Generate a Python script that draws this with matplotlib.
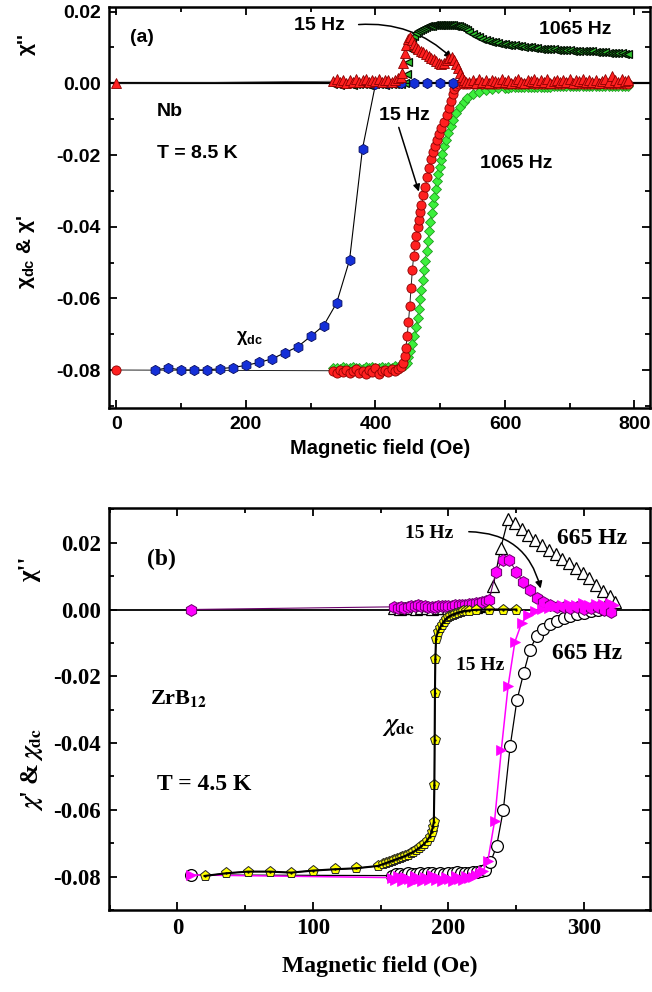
import numpy as np
import matplotlib
matplotlib.use('Agg')
import matplotlib.pyplot as plt
from matplotlib.ticker import MultipleLocator, FormatStrFormatter

SANS = 'Liberation Sans'
SERIF = 'Liberation Serif'
plt.rcParams['font.family'] = [SANS, 'DejaVu Sans']
plt.rcParams['font.weight'] = 'bold'
plt.rcParams['mathtext.fontset'] = 'custom'
plt.rcParams['mathtext.rm'] = 'Liberation Sans:bold'
plt.rcParams['mathtext.it'] = 'Liberation Sans:bold'
plt.rcParams['mathtext.bf'] = 'Liberation Sans:bold'

# ---------------- Panel (a): Nb, T = 8.5 K ----------------
# chi_dc
field_dc_a = [60, 80, 100, 120, 140, 160, 180, 200, 220, 240, 260, 280, 300, 320, 340, 360, 380,
              400, 420, 440, 460, 480, 500, 520]
chi_dc_a = [-0.0800, -0.0794, -0.0800, -0.0800, -0.0800, -0.0796, -0.0793, -0.0787, -0.0779, -0.0769,
            -0.0752, -0.0735, -0.0706, -0.0676, -0.0613, -0.0493, -0.0182,
            -0.0003, 0.0, 0.0, 0.0, 0.0, 0.0, 0.0]

# chi' 15 Hz (red circles)
field_r15_a = ([0] + list(range(335, 445, 5)) +
               [443, 445, 447, 449, 451, 453, 455, 457, 459, 461, 463, 465, 467, 469, 471, 474, 477,
                480, 483, 486, 489, 492, 495, 498, 502, 506, 510, 513, 516, 519, 522, 525, 529] +
               list(range(535, 795, 5)))
chi_r15_a = ([-0.0800] +
             [-0.0802, -0.0808, -0.0800, -0.0806, -0.0801, -0.0809, -0.0803, -0.0798, -0.0807, -0.0802,
              -0.0810, -0.0799, -0.0805, -0.0794, -0.0812, -0.0803, -0.0799, -0.0806, -0.0798, -0.0802,
              -0.0797, -0.0792] +
             [-0.0780, -0.0762, -0.0738, -0.0705, -0.0665, -0.0622, -0.0570, -0.0520, -0.0482, -0.0452,
              -0.0425, -0.0402, -0.0380, -0.0358, -0.0340, -0.0313, -0.0288, -0.0260, -0.0236, -0.0211,
              -0.0192, -0.0174, -0.0157, -0.0141, -0.0124, -0.0108, -0.0088, -0.0068, -0.0048, -0.0031,
              -0.0017, -0.0008, -0.0003] +
             [-0.0002, -0.0001, -0.0003, -0.0001, -0.0002, 0.0000, -0.0002, -0.0001, -0.0003, -0.0002,
              -0.0001, -0.0002, 0.0000, -0.0003, -0.0001, -0.0002, -0.0001, -0.0002, -0.0003, -0.0001,
              -0.0002, 0.0000, -0.0002, -0.0001, -0.0003, -0.0002, -0.0001, -0.0002, -0.0001, -0.0003,
              -0.0002, -0.0001, 0.0000, -0.0002, -0.0001, -0.0003, -0.0002, -0.0001, -0.0002, -0.0001,
              -0.0003, -0.0002, -0.0001, 0.0000, -0.0002, -0.0001, -0.0002, -0.0003, -0.0001, -0.0002,
              -0.0001, -0.0002])

# chi' 1065 Hz (green diamonds)
field_g1065_a = (list(range(335, 446, 5)) +
                 [448, 451, 454, 457, 460, 463] + list(range(465, 504, 2)) +
                 [506, 509, 512, 516, 520, 525, 530, 536, 542, 550, 560, 570, 580, 590, 600] +
                 list(range(605, 795, 5)))
chi_g1065_a = ([-0.0795, -0.0793, -0.0796, -0.0792, -0.0794, -0.0795, -0.0792, -0.0794, -0.0793, -0.0796,
                -0.0792, -0.0794, -0.0791, -0.0795, -0.0793, -0.0792, -0.0794, -0.0791, -0.0793, -0.0790,
                -0.0792, -0.0789, -0.0786] +
               [-0.0780, -0.0765, -0.0748, -0.0728, -0.0705, -0.0680, -0.0655, -0.0630, -0.0603, -0.0577,
                -0.0550, -0.0522, -0.0495, -0.0467, -0.0440, -0.0413, -0.0387, -0.0362, -0.0338, -0.0316,
                -0.0294, -0.0273, -0.0253, -0.0233, -0.0214, -0.0196, -0.0176, -0.0157, -0.0139, -0.0120,
                -0.0102, -0.0083, -0.0066, -0.0051, -0.0040, -0.0031, -0.0024, -0.0019, -0.0016, -0.0014,
                -0.0012] +
               [-0.0012, -0.0011, -0.0011, -0.0011, -0.0010, -0.0010, -0.0010, -0.0010, -0.0009, -0.0009,
                -0.0009, -0.0009, -0.0009, -0.0009, -0.0008, -0.0008, -0.0008, -0.0008, -0.0008, -0.0008,
                -0.0008, -0.0008, -0.0007, -0.0007, -0.0007, -0.0007, -0.0007, -0.0007, -0.0007, -0.0007,
                -0.0007, -0.0007, -0.0007, -0.0007, -0.0007, -0.0007, -0.0007, -0.0007])

# chi'' 15 Hz (red triangles)
field_t15_a = ([0] + list(range(335, 440, 5)) +
               [439, 441, 443, 445, 447, 450, 453, 456, 459, 462, 466, 470, 474, 478, 482, 486, 490, 494,
                498, 502, 506, 510, 514, 518, 521, 524, 527, 530, 533, 536, 540] +
               list(range(545, 795, 5)))
chi2_t15_a = ([0.0] +
              [0.0006, 0.0012, 0.0004, 0.0009, 0.0002, 0.0010, 0.0005, 0.0013, 0.0003, 0.0008, 0.0011,
               0.0004, 0.0009, 0.0006, 0.0012, 0.0003, 0.0008, 0.0010, 0.0005, 0.0009, 0.0014] +
              [0.0018, 0.0030, 0.0056, 0.0085, 0.0108, 0.0124, 0.0128, 0.0122, 0.0111, 0.0101,
               0.0095, 0.0091, 0.0087, 0.0082, 0.0077, 0.0072, 0.0067, 0.0062, 0.0057, 0.0053,
               0.0057, 0.0065, 0.0072, 0.0073, 0.0065, 0.0054, 0.0042, 0.0030, 0.0018, 0.0010, 0.0005] +
              [0.0004, 0.0009, 0.0002, 0.0011, 0.0005, 0.0008, 0.0001, 0.0010, 0.0006, 0.0003,
               0.0012, 0.0004, 0.0009, 0.0002, 0.0007, 0.0013, 0.0005, 0.0001, 0.0009, 0.0006,
               0.0011, 0.0003, 0.0008, 0.0004, 0.0012, 0.0002, 0.0007, 0.0010, 0.0003, 0.0009,
               0.0005, 0.0013, 0.0001, 0.0008, 0.0006, 0.0011, 0.0003, 0.0009, 0.0004, 0.0010,
               0.0002, 0.0007, 0.0012, 0.0005, 0.0021, 0.0009, 0.0004, 0.0011, 0.0006, 0.0008])

# chi'' 1065 Hz (dark green triangles)
field_t1065_a = (list(range(335, 445, 5)) + list(range(445, 542, 3)) +
                 [545, 550, 555, 560, 565, 570, 575, 580] + list(range(585, 795, 5)))
chi2_t1065_a = ([-0.0003, -0.0002, -0.0004, -0.0001, -0.0003, -0.0002, -0.0004, -0.0002, -0.0003, -0.0001,
                 -0.0003, -0.0004, -0.0002, -0.0003, -0.0001, -0.0002, -0.0004, -0.0003, -0.0002, -0.0001,
                 -0.0003, -0.0002] +
                [0.0002, 0.0025, 0.0060, 0.0095, 0.0118, 0.0132, 0.0140, 0.0146, 0.0150, 0.0153,
                 0.0155, 0.0157, 0.0159, 0.0160, 0.0161, 0.0162, 0.0163, 0.0164, 0.0164, 0.0164,
                 0.0164, 0.0163, 0.0163, 0.0162, 0.0162, 0.0162, 0.0161, 0.0160, 0.0159, 0.0157,
                 0.0155, 0.0152, 0.0148, 0.0143, 0.0137, 0.0132, 0.0128, 0.0124, 0.0121, 0.0118, 0.0116] +
                [0.0115, 0.0113, 0.0111, 0.0110, 0.0108, 0.0107, 0.0106, 0.0104, 0.0103, 0.0102,
                 0.0101, 0.0100, 0.0099, 0.0098, 0.0097, 0.0097, 0.0096, 0.0095, 0.0095, 0.0094,
                 0.0093, 0.0093, 0.0092, 0.0092, 0.0091, 0.0091, 0.0090, 0.0090, 0.0089, 0.0089,
                 0.0089, 0.0088, 0.0088, 0.0087, 0.0087, 0.0086, 0.0086, 0.0085, 0.0084, 0.0084,
                 0.0083, 0.0082])

# ---------------- Panel (b): ZrB12, T = 4.5 K ----------------
field_dc_b = ([20, 36, 52, 68, 84, 100, 116, 132, 148] + list(range(152, 187, 2)) +
              [187.5, 188.5, 189.2, 189.6, 189.8, 190.0, 190.3, 190.8] +
              [192, 193.5, 195, 196.5, 198, 199.5, 201, 203, 205, 207, 209, 211, 213, 215] +
              [220, 230, 240, 250])
chi_dc_b = ([-0.0798, -0.0790, -0.0785, -0.0785, -0.0788, -0.0782, -0.0778, -0.0775, -0.0768] +
            [-0.0762, -0.0759, -0.0756, -0.0753, -0.0750, -0.0747, -0.0744, -0.0741, -0.0738, -0.0734,
             -0.0730, -0.0726, -0.0721, -0.0715, -0.0709, -0.0702, -0.0693, -0.0681] +
            [-0.0666, -0.0650, -0.0635, -0.0526, -0.0391, -0.0251, -0.0149, -0.0087] +
            [-0.0068, -0.0056, -0.0045, -0.0036, -0.0029, -0.0023, -0.0019, -0.0015, -0.0012, -0.0009,
             -0.0007, -0.0005, -0.0004, -0.0003] +
            [-0.0001, 0.0, 0.0, 0.0])

# chi' 665 Hz (open circles)
field_c665_b = ([10] + list(range(158, 229, 3)) +
                [231, 235.5, 240.5, 245.5, 250.5, 255.5, 260, 265, 270, 275, 280, 285, 290, 295, 300,
                 305, 310, 315, 320])
chi_c665_b = ([-0.0795] +
              [-0.0797, -0.0793, -0.0791, -0.0794, -0.0790, -0.0793, -0.0791, -0.0789, -0.0792, -0.0790,
               -0.0788, -0.0791, -0.0789, -0.0792, -0.0788, -0.0790, -0.0787, -0.0790, -0.0788, -0.0789,
               -0.0786, -0.0787, -0.0783, -0.0779] +
              [-0.0757, -0.0709, -0.0599, -0.0410, -0.0272, -0.0190, -0.0122, -0.0079, -0.0058, -0.0043,
               -0.0033, -0.0024, -0.0018, -0.0013, -0.0009, -0.0005, -0.0002, 0.0002, 0.0006])

# chi' 15 Hz (magenta right triangles)
field_m15_b = ([10] + list(np.arange(158, 226, 2.5)) +
               [229, 234, 239, 244, 249, 254, 259, 264, 269, 274, 279, 284, 289, 294, 299, 304, 309,
                314, 319, 322])
chi_m15_b = ([-0.0795] +
             [-0.0803, -0.0810, -0.0798, -0.0812, -0.0801, -0.0807, -0.0815, -0.0799, -0.0808, -0.0813,
              -0.0802, -0.0809, -0.0796, -0.0811, -0.0804, -0.0814, -0.0800, -0.0808, -0.0812, -0.0797,
              -0.0806, -0.0810, -0.0799, -0.0805, -0.0801, -0.0796, -0.0790, -0.0782] +
             [-0.0754, -0.0634, -0.0420, -0.0229, -0.0097, -0.0040, -0.0015, -0.0004, 0.0001, 0.0005,
              0.0009, 0.0013, 0.0016, 0.0014, 0.0018, 0.0013, 0.0017, 0.0015, 0.0019, 0.0014])

# chi'' 15 Hz (magenta hexagons)
field_h15_b = [10] + list(np.arange(160, 228, 2.5)) + list(range(230, 321, 5))
chi2_h15_b = ([0.0] +
              [0.0008, 0.0005, 0.0006, 0.0004, 0.0006, 0.0009, 0.0010, 0.0013, 0.0011, 0.0009,
               0.0006, 0.0007, 0.0008, 0.0010, 0.0009, 0.0010, 0.0011, 0.0010, 0.0012, 0.0013,
               0.0012, 0.0013, 0.0015, 0.0016, 0.0018, 0.0020, 0.0023, 0.0025] +
              [0.0028, 0.0113, 0.0148, 0.0148, 0.0113, 0.0083,
               0.0058, 0.0035, 0.0023, 0.0014, 0.0008, 0.0008, 0.0004, 0.0006, 0.0003, 0.0005,
               0.0006, 0.0000, -0.0006])

# chi'' 665 Hz (open triangles)
field_t665_b = (list(range(160, 229, 4)) +
                [233, 238.5, 244, 249, 254, 259, 264, 269, 274, 279, 284, 289, 294, 299, 304, 309, 314,
                 319, 323])
chi2_t665_b = ([0.0004, 0.0003, 0.0005, 0.0004, 0.0003, 0.0004, 0.0005, 0.0003, 0.0004, 0.0005,
                0.0004, 0.0006, 0.0005, 0.0007, 0.0006, 0.0008, 0.0010, 0.0014] +
               [0.0070, 0.0183, 0.0270, 0.0260, 0.0241, 0.0223, 0.0207, 0.0192, 0.0179, 0.0165,
                0.0151, 0.0138, 0.0124, 0.0110, 0.0094, 0.0073, 0.0055, 0.0039, 0.0022])

for a, b in [(field_dc_a, chi_dc_a), (field_r15_a, chi_r15_a), (field_g1065_a, chi_g1065_a),
             (field_t15_a, chi2_t15_a), (field_t1065_a, chi2_t1065_a), (field_dc_b, chi_dc_b),
             (field_c665_b, chi_c665_b), (field_m15_b, chi_m15_b), (field_h15_b, chi2_h15_b),
             (field_t665_b, chi2_t665_b)]:
    assert len(a) == len(b), (len(a), len(b))

# ---------------- Figure ----------------
W, H = 652, 992
fig = plt.figure(figsize=(W / 100, H / 100), dpi=100)
ax_a = fig.add_axes([109 / W, 1 - 408 / H, 541 / W, 401 / H])
ax_b = fig.add_axes([109 / W, 1 - 910 / H, 541 / W, 402 / H])

# ----- panel a
ax_a.axhline(0, color='black', lw=1.6, zorder=1)
ax_a.plot(field_g1065_a, chi_g1065_a, '-', color='#1f6f1f', lw=0.5, marker='D', ms=5.4,
          mfc='#3cf03c', mec='#1f9a1f', mew=0.6, zorder=3)
ax_a.plot(field_r15_a, chi_r15_a, '-', color='#222222', lw=0.7, marker='o', ms=6.6,
          mfc='#ff2020', mec='#8b0000', mew=0.6, zorder=4)
ax_a.plot(field_t1065_a, chi2_t1065_a, 'none', marker='<', ms=5.6,
          mfc='#2fc02f', mec='#031003', mew=0.9, zorder=4.5)
ax_a.plot(field_dc_a, chi_dc_a, '-', color='black', lw=0.8, marker='h', ms=7.4,
          mfc='#1530d8', mec='#0a1060', mew=0.6, zorder=4.8)
ax_a.plot(field_t15_a, chi2_t15_a, '-', color='#222222', lw=0.5, marker='^', ms=7.2,
          mfc='#ff2020', mec='#8b0000', mew=0.6, zorder=5)

ax_a.set_xlim(-11.5, 824)
ax_a.set_ylim(-0.0906, 0.0213)
ax_a.xaxis.set_major_locator(MultipleLocator(200))
ax_a.xaxis.set_minor_locator(MultipleLocator(100))
ax_a.yaxis.set_major_locator(MultipleLocator(0.02))
ax_a.yaxis.set_minor_locator(MultipleLocator(0.01))
ax_a.xaxis.set_major_formatter(FormatStrFormatter('%d'))
ax_a.yaxis.set_major_formatter(FormatStrFormatter('%.2f'))

ta = dict(fontsize=14, fontweight='bold', family=[SANS, 'DejaVu Sans'])
ax_a.text(40, 0.0128, '(a)', ha='center', va='center', **ta)
ax_a.text(313, 0.0162, '15 Hz', ha='center', va='center', **ta)
ax_a.annotate('', xy=(518, 0.0070), xytext=(374, 0.0164),
              arrowprops=dict(arrowstyle='-|>', connectionstyle='arc3,rad=-0.22', color='black',
                              lw=1.1, mutation_scale=10, shrinkA=0, shrinkB=0))
ax_a.text(708, 0.0150, '1065 Hz', ha='center', va='center', **ta)
ax_a.text(63, -0.0080, 'Nb', ha='left', va='center', **ta)
ax_a.text(63, -0.0197, 'T = 8.5 K', ha='left', va='center', **ta)
ax_a.text(444, -0.0091, '15 Hz', ha='center', va='center', **ta)
ax_a.annotate('', xy=(467, -0.0302), xytext=(436, -0.0123),
              arrowprops=dict(arrowstyle='-|>', color='black', lw=1.1, mutation_scale=10,
                              shrinkA=0, shrinkB=0))
ax_a.text(617, -0.0225, '1065 Hz', ha='center', va='center', **ta)
ax_a.text(206, -0.0711, r'$\chi_{\mathrm{dc}}$', ha='center', va='center', fontsize=13,
          math_fontfamily='custom')

# ----- panel b
ax_b.axhline(0, color='black', lw=1.3, zorder=1)
ax_b.plot(field_c665_b, chi_c665_b, '-', color='black', lw=0.9, marker='o', ms=8.5,
          mfc='white', mec='black', mew=0.9, zorder=3)
ax_b.plot(field_t665_b, chi2_t665_b, '-', color='black', lw=0.9, marker='^', ms=9,
          mfc='white', mec='black', mew=0.9, zorder=3.5)
ax_b.plot(field_h15_b, chi2_h15_b, '-', color='#6a006a', lw=0.8, marker='h', ms=8.5,
          mfc='#ff00ff', mec='#6a006a', mew=0.7, zorder=4)
ax_b.plot(field_m15_b, chi_m15_b, '-', color='#ff00ff', lw=1.1, marker='>', ms=7.5,
          mfc='#ff00ff', mec='#ff00ff', mew=0.5, zorder=4.5)
ax_b.plot(field_dc_b, chi_dc_b, '-', color='black', lw=0.8, marker='p', ms=8,
          mfc='#ffff00', mec='#222222', mew=0.7, zorder=6)
ax_b.plot(field_dc_b, chi_dc_b, 'none', marker='.', ms=1.3, color='black', zorder=6.5)

ax_b.set_xlim(-50.5, 348.7)
ax_b.set_ylim(-0.09, 0.0304)
ax_b.xaxis.set_major_locator(MultipleLocator(100))
ax_b.xaxis.set_minor_locator(MultipleLocator(50))
ax_b.yaxis.set_major_locator(MultipleLocator(0.02))
ax_b.yaxis.set_minor_locator(MultipleLocator(0.01))
ax_b.xaxis.set_major_formatter(FormatStrFormatter('%d'))
ax_b.yaxis.set_major_formatter(FormatStrFormatter('%.2f'))

tb = dict(fontweight='bold', family=[SERIF, 'DejaVu Serif'])
ax_b.text(-12, 0.0150, '(b)', ha='center', va='center', fontsize=17, **tb)
ax_b.text(186, 0.0228, '15 Hz', ha='center', va='center', fontsize=14, **tb)
ax_b.annotate('', xy=(268, 0.0063), xytext=(215, 0.0233),
              arrowprops=dict(arrowstyle='-|>', connectionstyle='arc3,rad=-0.38', color='black',
                              lw=1.1, mutation_scale=10, shrinkA=0, shrinkB=0))
ax_b.text(306, 0.0213, '665 Hz', ha='center', va='center', fontsize=17, **tb)
ax_b.text(302, -0.0132, '665 Hz', ha='center', va='center', fontsize=17, **tb)
ax_b.text(223, -0.0167, '15 Hz', ha='center', va='center', fontsize=14, **tb)
ax_b.text(-20.5, -0.0268, r'ZrB$_{\mathbf{12}}$', ha='left', va='center', fontsize=16,
          math_fontfamily='stix', **tb)
ax_b.text(163, -0.0350, r'$\chi_{\mathbf{dc}}$', ha='center', va='center', fontsize=18,
          math_fontfamily='stix', **tb)
ax_b.text(-15.4, -0.0524, 'T = 4.5 K', ha='left', va='center', fontsize=17, **tb)

# ----- axes styling
for ax, fam, lsz in [(ax_a, SANS, 14), (ax_b, SERIF, 16.5)]:
    for s in ax.spines.values():
        s.set_linewidth(1.8)
    ax.tick_params(which='both', direction='in', top=True, right=True, width=1.3,
                   labelsize=lsz, labelfontfamily=fam, pad=6)
    ax.tick_params(which='major', length=5.5)
    ax.tick_params(which='minor', length=3.5)
    for t in ax.get_xticklabels() + ax.get_yticklabels():
        t.set_fontweight('bold')

# axis labels
fig.text(380 / W, 1 - 448 / H, 'Magnetic field (Oe)', ha='center', va='center',
         fontsize=14.5, fontweight='bold', family=[SANS, 'DejaVu Sans'])
fig.text(26 / W, 1 - 44 / H, "χ''", rotation=90, ha='center', va='center',
         fontsize=15, fontweight='bold', family=[SANS, 'DejaVu Sans'])
fig.text(26 / W, 1 - 252 / H, r"$\chi_{\mathrm{dc}}$ & $\chi$'", rotation=90, ha='center',
         va='center', fontsize=15, fontweight='bold', family=[SANS, 'DejaVu Sans'],
         math_fontfamily='custom')

fig.text(380 / W, 1 - 966 / H, 'Magnetic field (Oe)', ha='center', va='center',
         fontsize=17, fontweight='bold', family=[SERIF, 'DejaVu Serif'])
fig.text(30 / W, 1 - 569 / H, "χ''", rotation=90, ha='center', va='center',
         fontsize=18, fontweight='bold', family=[SERIF, 'DejaVu Serif'])
fig.text(32 / W, 1 - 769 / H, r"$\chi$' & $\chi_{\mathbf{dc}}$", rotation=90, ha='center',
         va='center', fontsize=18, fontweight='bold', family=[SERIF, 'DejaVu Serif'],
         math_fontfamily='stix')

fig.savefig('out.png', dpi=100)
